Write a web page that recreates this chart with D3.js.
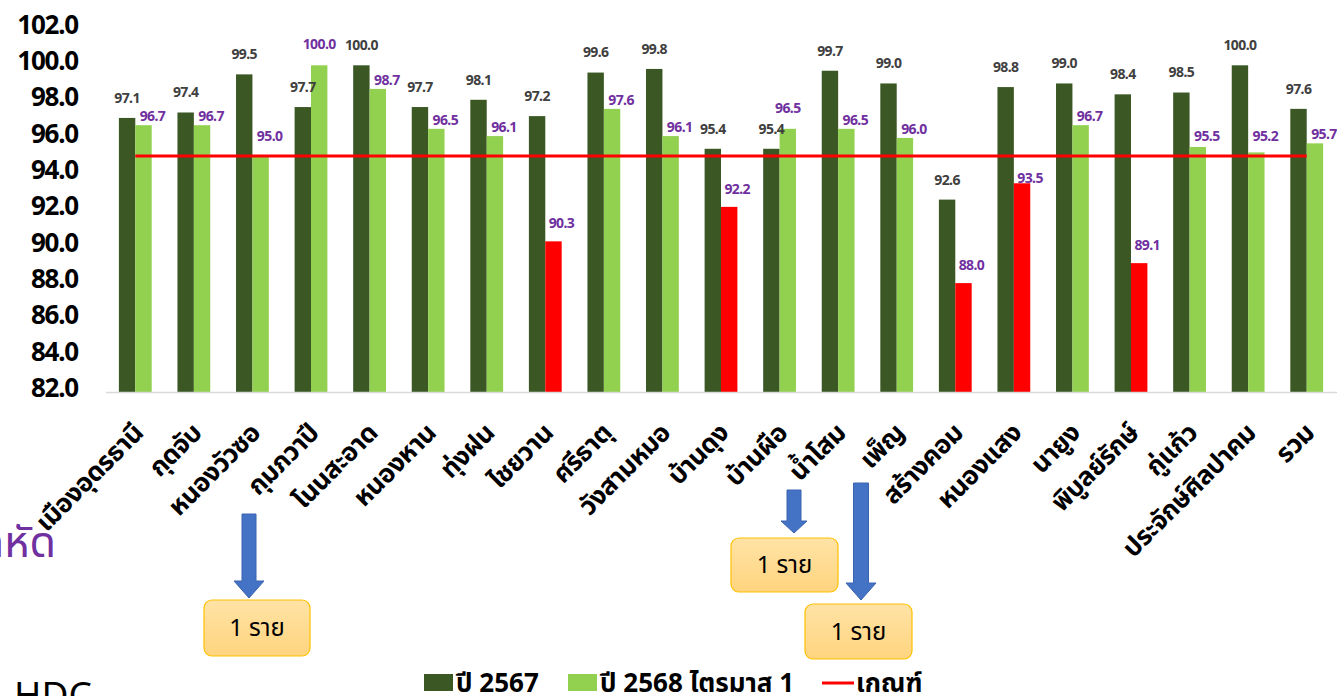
<!DOCTYPE html>
<html><head><meta charset="utf-8">
<script src="https://cdn.jsdelivr.net/npm/d3@7"></script>
<style>
body{margin:0;background:#fff;overflow:hidden}
svg{display:block}
text{font-family:"Noto Sans","Noto Sans Thai","Loma","Garuda",sans-serif}
</style>
</head><body>
<svg id="c" width="1337" height="696"></svg>
<script>
// ---------------- data ----------------
const categories = ["เมืองอุดรธานี","กุดจับ","หนองวัวซอ","กุมภวาปี","โนนสะอาด","หนองหาน","ทุ่งฝน","ไชยวาน","ศรีธาตุ","วังสามหมอ","บ้านดุง","บ้านผือ","น้ำโสม","เพ็ญ","สร้างคอม","หนองแสง","นายูง","พิบูลย์รักษ์","กู่แก้ว","ประจักษ์ศิลปาคม","รวม"];
const values2567 = [97.1,97.4,99.5,97.7,100.0,97.7,98.1,97.2,99.6,99.8,95.4,95.4,99.7,99.0,92.6,98.8,99.0,98.4,98.5,100.0,97.6];
const values2568q1 = [96.7,96.7,95.0,100.0,98.7,96.5,96.1,90.3,97.6,96.1,92.2,96.5,96.5,96.0,88.0,93.5,96.7,89.1,95.5,95.2,95.7];
const criterionValue = 95.0;
const yTickValues = [82,84,86,88,90,92,94,96,98,100,102];
const seriesNames = ["ปี 2567","ปี 2568 ไตรมาส 1","เกณฑ์"];
const noteText = "1 ราย";
const sideText = "โรคหัด";
const footText = "HDC";

// ---------------- styles ----------------
const C_DARK = "#3A5724", C_LIGHT = "#92D050", C_RED = "#FF0000";
const C_LBL_DARK = "#404040", C_LBL_LIGHT = "#7030A0";

const svg = d3.select("#c");

const x0 = d3.scaleBand().domain(categories).range([106, 1336]).paddingInner(0.44).paddingOuter(0.22);
const x1 = d3.scaleBand().domain(["a","b"]).range([0, x0.bandwidth()]);
const y = d3.scaleLinear().domain([82, 102]).range([392, 29]);

const data = categories.map((c,i)=>({c, a: values2567[i], b: values2568q1[i]}));

// y axis labels
const yAxis = d3.axisLeft(y).tickValues(yTickValues).tickFormat(d3.format(".1f")).tickSize(0).tickPadding(0);
const gy = svg.append("g").attr("transform","translate(78,-4)").call(yAxis);
gy.select(".domain").remove();
gy.selectAll("text").attr("fill","#000").style("font-size","26px").style("font-weight","700").style("letter-spacing","-1.2px")
  .style("font-family","'Noto Sans',sans-serif");

// bars
const groups = svg.append("g").selectAll("g").data(data).join("g")
  .attr("transform", d=>`translate(${x0(d.c)},0)`);
groups.append("rect").attr("x", x1("a")).attr("width", x1.bandwidth())
  .attr("y", d=>y(d.a)).attr("height", d=>y(82)-y(d.a)).attr("fill", C_DARK);
groups.append("rect").attr("x", x1("b")).attr("width", x1.bandwidth())
  .attr("y", d=>y(d.b)).attr("height", d=>y(82)-y(d.b)).attr("fill", d=> d.b < criterionValue ? C_RED : C_LIGHT);

// x axis line
svg.append("line").attr("x1",106).attr("x2",1337).attr("y1",y(82)+0.5).attr("y2",y(82)+0.5)
  .attr("stroke","#D9D9D9").attr("stroke-width",1.5);

// criterion line
const cx = c => x0(c) + x0.bandwidth()/2;
svg.append("line").attr("x1", cx(categories[0])).attr("x2", cx(categories[categories.length-1]))
  .attr("y1", y(criterionValue)).attr("y2", y(criterionValue)).attr("stroke", C_RED).attr("stroke-width", 3);

// value labels
const lineY = y(criterionValue);
groups.append("text").attr("x", x1("a") + x1.bandwidth()/2).attr("y", d=>y(d.a)-20)
  .attr("text-anchor","middle").attr("dy","0.35em").attr("fill", C_LBL_DARK)
  .style("font-size","14px").style("font-weight","700").style("letter-spacing","-0.6px")
  .text(d=>d.a.toFixed(1));
groups.append("text")
  .each(function(d){
    const top = y(d.b), bx = x1("b") + x1.bandwidth()/2;
    let lx, ly;
    if (d.b >= d.a) { lx = bx; ly = top - 21; }
    else if (d.b < criterionValue) {
      lx = bx + 8; ly = top - 18;
      if (Math.abs(ly - lineY) < 14) ly = top - 5;
    } else { lx = bx + 9; ly = Math.min(top - 9, lineY - 20); }
    d3.select(this).attr("x", lx).attr("y", ly);
  })
  .attr("text-anchor","middle").attr("dy","0.35em").attr("fill", C_LBL_LIGHT)
  .style("font-size","14px").style("font-weight","700").style("letter-spacing","-0.6px")
  .text(d=>d.b.toFixed(1));

// x labels
svg.append("g").selectAll("text").data(categories).join("text")
  .attr("transform", c=>`translate(${cx(c)+3},428) rotate(-45)`)
  .attr("text-anchor","end").attr("dy","0.35em").attr("fill","#000")
  .style("font-size","26px").style("font-weight","700").style("letter-spacing","-0.5px")
  .text(c=>c);

// side texts
svg.append("text").attr("x", 56).attr("y", 557).attr("text-anchor","end").attr("fill","#7030A0")
  .style("font-size","43px").text(sideText);
svg.append("text").attr("x", 14).attr("y", 708).attr("fill","#000")
  .style("font-size","37px").text(footText);

// annotations
const defs = svg.append("defs");
const grad = defs.append("linearGradient").attr("id","boxg").attr("x1",0).attr("x2",0).attr("y1",0).attr("y2",1);
grad.append("stop").attr("offset","0%").attr("stop-color","#FFE3A6");
grad.append("stop").attr("offset","100%").attr("stop-color","#FFD47E");

function arrow(xc, yTop, yTip, shaftW, headW, headH){
  const p = d3.path();
  p.moveTo(xc-shaftW/2, yTop); p.lineTo(xc+shaftW/2, yTop); p.lineTo(xc+shaftW/2, yTip-headH);
  p.lineTo(xc+headW/2, yTip-headH); p.lineTo(xc, yTip); p.lineTo(xc-headW/2, yTip-headH);
  p.lineTo(xc-shaftW/2, yTip-headH); p.closePath();
  svg.append("path").attr("d", p.toString()).attr("fill","#4472C4").attr("stroke","#3A64B0").attr("stroke-width",1);
}
function box(x, yy, w, h){
  svg.append("rect").attr("x",x).attr("y",yy).attr("width",w).attr("height",h).attr("rx",8)
    .attr("fill","url(#boxg)").attr("stroke","#FFC000").attr("stroke-width",1.2);
  svg.append("text").attr("x", x+w/2).attr("y", yy+h/2).attr("dy","0.35em").attr("text-anchor","middle")
    .attr("fill","#000").style("font-size","24px").text(noteText);
}
arrow(249, 514, 598, 14, 30, 17);
box(204, 600, 106, 56);
arrow(794, 490, 533, 14, 26, 12);
box(731, 538, 107, 54);
arrow(861, 483, 600, 15, 30, 17);
box(805, 604, 107, 55);

// legend
const lg = svg.append("g").attr("transform","translate(0,683)");
const lgStyle = s => s.style("font-size","26px").style("font-weight","700").attr("dy","0.35em").attr("y",0);
lg.append("rect").attr("x",424).attr("y",-9).attr("width",29).attr("height",17).attr("fill",C_DARK);
lg.append("text").attr("x",456).call(lgStyle).text(seriesNames[0]);
lg.append("rect").attr("x",568).attr("y",-9).attr("width",29).attr("height",17).attr("fill",C_LIGHT);
lg.append("text").attr("x",600).call(lgStyle).text(seriesNames[1]);
lg.append("line").attr("x1",822).attr("x2",854).attr("y1",0).attr("y2",0).attr("stroke",C_RED).attr("stroke-width",3);
lg.append("text").attr("x",856).call(lgStyle).text(seriesNames[2]);
</script>
</body></html>
